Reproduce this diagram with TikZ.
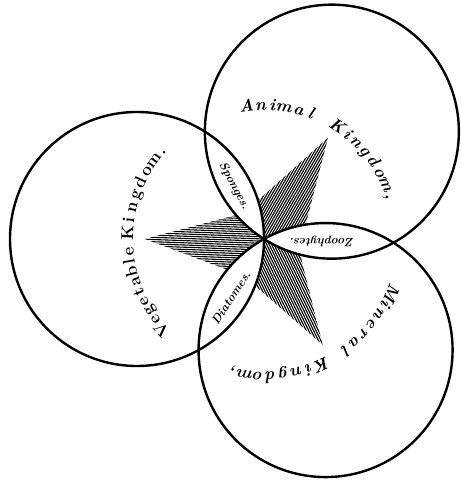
\documentclass[tikz,border=0pt]{standalone}
\usetikzlibrary{calc}
\begin{document}
\begin{tikzpicture}[x=1pt,y=1pt,
  ring/.style={line width=2.4pt, draw=black},
  hatch/.style={line width=1.1pt, draw=black},
  arcl/.style={inner sep=0pt, anchor=base, font=\fontsize{17}{17}\selectfont\bfseries\itshape},
  arcv/.style={inner sep=0pt, anchor=base, font=\fontsize{17}{17}\selectfont\bfseries},
  lenslbl/.style={inner sep=0pt, font=\fontsize{12}{12}\selectfont\bfseries\itshape}]
\useasboundingbox (0,0) rectangle (460,481);
\fill[white] (0,0) rectangle (460,481);
\coordinate (P) at (264,242);
\coordinate (CA) at ($(P)+(57.7:127)$);
\coordinate (CV) at ($(P)+(180:127)$);
\coordinate (CM) at ($(P)+(-61:127)$);
\coordinate (T1) at ($(P)+(180:119)$);
\coordinate (T2) at ($(P)+(57.7:120)$);
\coordinate (T3) at ($(P)+(-61:121)$);
\coordinate (I12) at (244,268);
\coordinate (I23) at (299,231);
\coordinate (I31) at (244,205);
% hatched star
\begin{scope}
  \clip (T1)--(I12)--(P)--(I31)--cycle;
  \begin{scope}[shift={(P)},rotate=178]
    \foreach \k in {-25,...,25} \draw[hatch] (-30,{2.2*\k}) -- (140,{2.2*\k});
  \end{scope}
\end{scope}
\begin{scope}
  \clip (T2)--(I23)--(P)--(I12)--cycle;
  \begin{scope}[shift={(P)},rotate=60]
    \foreach \k in {-25,...,25} \draw[hatch] (-30,{2.2*\k}) -- (140,{2.2*\k});
  \end{scope}
\end{scope}
\begin{scope}
  \clip (T3)--(I31)--(P)--(I23)--cycle;
  \begin{scope}[shift={(P)},rotate=-64]
    \foreach \k in {-25,...,25} \draw[hatch] (-30,{2.2*\k}) -- (140,{2.2*\k});
  \end{scope}
\end{scope}
% white lenses
\begin{scope}
  \clip (CA) circle (127);
  \fill[white] (CV) circle (127);
  \fill[white] (CM) circle (127);
\end{scope}
\begin{scope}
  \clip (CV) circle (127);
  \fill[white] (CM) circle (127);
\end{scope}
% circles
\draw[ring] (CA) circle (127);
\draw[ring] (CV) circle (127);
\draw[ring] (CM) circle (127);
% lens labels
\node[lenslbl, rotate=-62] (sponges) at (234,295) {Sponges.};
\node[lenslbl, rotate=57] (diatomes) at (231,183) {Diatomes.};
\node[lenslbl, rotate=180] (zoophytes) at (322,240) {Zoophytes.};
% Animal Kingdom,
\foreach \ch/\a [count=\i] in {A/97.5, n/91.5, i/86.5, m/81.5, a/75, l/69.5,
    K/57, i/51.5, n/46.5, g/41, d/35.5, o/30, m/24.5, {,}/19}
  \node[arcl, rotate=\a-90] (an\i) at ($(P)+(\a:129)$) {\ch};
% Vegetable Kingdom.
\foreach \ch/\a [count=\i] in {V/221.5, e/216.5, g/212, e/207.5, t/203, a/198.5, b/194, l/189.5, e/185.5,
    K/177.5, i/172, n/166.5, g/161, d/155.5, o/150, m/144.5, ./139}
  \node[arcv, rotate=\a-90] (ve\i) at ($(P)+(\a:131)$) {\ch};
% Mineral Kingdom,
\foreach \ch/\a [count=\i] in {M/-22.8, i/-28, n/-33, e/-38.2, r/-43.3, a/-48.5, l/-53.6,
    K/-65.4, i/-70.8, n/-76.2, g/-81.6, d/-87, o/-92.4, m/-97.8, {,}/-103.3}
  \node[arcl, rotate=\a-90] (mi\i) at ($(P)+(\a:133)$) {\ch};
\end{tikzpicture}
\end{document}
